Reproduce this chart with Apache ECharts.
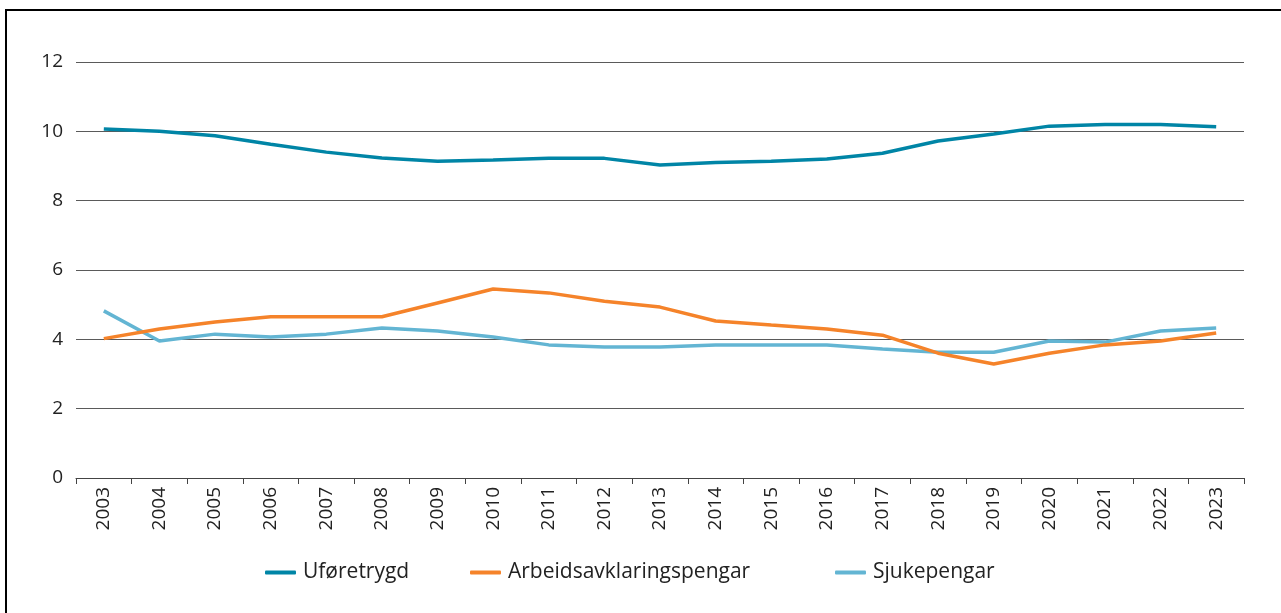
<!DOCTYPE html>
<html>
<head>
<meta charset="utf-8">
<script src="https://cdn.jsdelivr.net/npm/echarts@6/dist/echarts.min.js"></script>
<style>
  html, body { margin: 0; padding: 0; background: #fff; }
  #frame {
    position: absolute; left: 5px; top: 9px; width: 1290px; height: 620px;
    border-top: 2px solid #000; border-left: 2px solid #000;
  }
  #chart { position: absolute; left: 0; top: 0; width: 1281px; height: 613px; }
</style>
</head>
<body>
<div id="frame"></div>
<div id="chart"></div>
<script>
// år
const years = ['2003', '2004', '2005', '2006', '2007', '2008', '2009', '2010', '2011', '2012',
  '2013', '2014', '2015', '2016', '2017', '2018', '2019', '2020', '2021', '2022', '2023'];

// prosent per ytelse
const uforetrygd = [10.07, 10.0, 9.87, 9.63, 9.4, 9.23, 9.14, 9.17, 9.22, 9.22,
  9.03, 9.1, 9.14, 9.2, 9.37, 9.72, 9.92, 10.15, 10.2, 10.2, 10.13];
const aap = [4.02, 4.3, 4.5, 4.65, 4.65, 4.65, 5.05, 5.45, 5.34, 5.1,
  4.93, 4.53, 4.41, 4.3, 4.12, 3.6, 3.29, 3.6, 3.84, 3.95, 4.18];
const sjukepengar = [4.82, 3.95, 4.15, 4.07, 4.15, 4.33, 4.24, 4.07, 3.84, 3.78,
  3.78, 3.84, 3.84, 3.84, 3.72, 3.63, 3.63, 3.95, 3.92, 4.24, 4.33];

const seriesNames = ['Uføretrygd', 'Arbeidsavklaringspengar', 'Sjukepengar'];
const colors = ['#0085A6', '#F5832A', '#63B5D3'];
const yTicks = [0, 2, 4, 6, 8, 10, 12];

const font = '"Open Sans", "Noto Sans", sans-serif';
const chart = echarts.init(document.getElementById('chart'));

const legendLeft = [260, 465, 830];

chart.setOption({
  animation: false,
  textStyle: { fontFamily: font },
  grid: { left: 76, right: 37, top: 62, bottom: 135 },
  legend: seriesNames.map((n, i) => ({
    data: [{ name: n, icon: 'roundRect' }],
    left: legendLeft[i],
    top: 557,
    itemWidth: 31,
    itemHeight: 4,
    itemGap: 8,
    textStyle: { fontSize: 21, color: '#222', fontFamily: font, padding: [0, 0, 0, 2] }
  })),
  xAxis: {
    type: 'category',
    data: years,
    boundaryGap: true,
    axisLine: { lineStyle: { color: '#444', width: 1 } },
    axisTick: { show: true, length: 6, lineStyle: { color: '#444' } },
    axisLabel: { rotate: 90, margin: 9, fontSize: 19, color: '#222', fontFamily: font }
  },
  yAxis: {
    type: 'value',
    min: yTicks[0],
    max: yTicks[yTicks.length - 1],
    interval: 2,
    axisLine: { show: false },
    axisTick: { show: false },
    axisLabel: { margin: 13, fontSize: 19, color: '#222', fontFamily: font },
    splitLine: { lineStyle: { color: '#5a5a5a', width: 1 } }
  },
  series: [uforetrygd, aap, sjukepengar].map((d, i) => ({
    name: seriesNames[i],
    type: 'line',
    data: d,
    symbol: 'none',
    color: colors[i],
    lineStyle: { width: 3.5, color: colors[i] },
    z: 3 - i
  }))
});
</script>
</body>
</html>
